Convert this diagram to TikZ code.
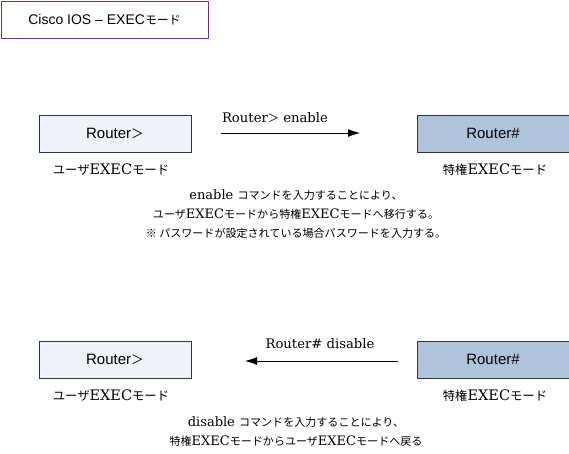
\documentclass[tikz,border=0pt]{standalone}
\usepackage{fontspec}
\setmainfont{DejaVu Serif}
\setsansfont{Liberation Sans}
\newfontfamily\jp[Scale=0.85]{Noto Sans CJK JP}
\usetikzlibrary{arrows.meta}
\definecolor{boxlight}{HTML}{EEF1F6}
\definecolor{boxdark}{HTML}{AFC3DB}
\definecolor{titleframe}{HTML}{7030A0}
\tikzset{
  modebox/.style={draw=black!80, line width=1pt, minimum width=152pt, minimum height=37pt, inner sep=0pt, font=\sffamily\fontsize{15}{16}\selectfont},
  userbox/.style={modebox, fill=boxlight},
  privbox/.style={modebox, fill=boxdark},
  modelabel/.style={font=\fontsize{14.5}{18}\selectfont, inner sep=0pt},
  cmdlabel/.style={font=\fontsize{13.2}{18}\selectfont, inner sep=0pt},
  desc/.style={font=\fontsize{13}{19}\selectfont, align=center, inner sep=0pt},
  cmdarrow/.style={-{Latex[length=12pt,width=8pt]}, line width=0.8pt}
}
\begin{document}
\begin{tikzpicture}[x=1pt,y=-1pt]
\useasboundingbox (0,0) rectangle (569,453);
% title
\node[draw=titleframe, line width=1pt, minimum width=207pt, minimum height=37pt, inner sep=0pt, font=\sffamily\fontsize{14}{17}\selectfont] (title) at (104.5,19.5) {Cisco IOS – EXEC{\jp モード}};
% top
\node[userbox] (u1) at (115,133.5) {Router{\jp ＞}};
\node[privbox] (p1) at (493,133.5) {Router\#};
\coordinate (a1s) at (221,133);
\coordinate (a1e) at (360,133);
\draw[cmdarrow] (a1s) -- (a1e);
\node[cmdlabel] (c1) at (275,118) {Router{\jp ＞} enable};
\node[modelabel] (ul1) at (111,170) {{\jp ユーザ}EXEC{\jp モード}};
\node[modelabel] (pl1) at (495,170) {{\jp 特権}EXEC{\jp モード}};
\node[desc] (d1) at (296,214) {enable {\jp コマンドを入力することにより、}\\{\jp ユーザ}EXEC{\jp モードから特権}EXEC{\jp モードへ移行する。}\\{\jp ※ パスワードが設定されている場合パスワードを入力する。}};
% bottom
\node[userbox] (u2) at (115,359.5) {Router{\jp ＞}};
\node[privbox] (p2) at (493,359.5) {Router\#};
\coordinate (a2s) at (398,361);
\coordinate (a2e) at (245,361);
\draw[cmdarrow] (a2s) -- (a2e);
\node[cmdlabel] (c2) at (320,344) {Router\# disable};
\node[modelabel] (ul2) at (111,396) {{\jp ユーザ}EXEC{\jp モード}};
\node[modelabel] (pl2) at (495,396) {{\jp 特権}EXEC{\jp モード}};
\node[desc] (d2) at (296,431.5) {disable {\jp コマンドを入力することにより、}\\{\jp 特権}EXEC{\jp モードからユーザ}EXEC{\jp モードへ戻る}};
\end{tikzpicture}
\end{document}
